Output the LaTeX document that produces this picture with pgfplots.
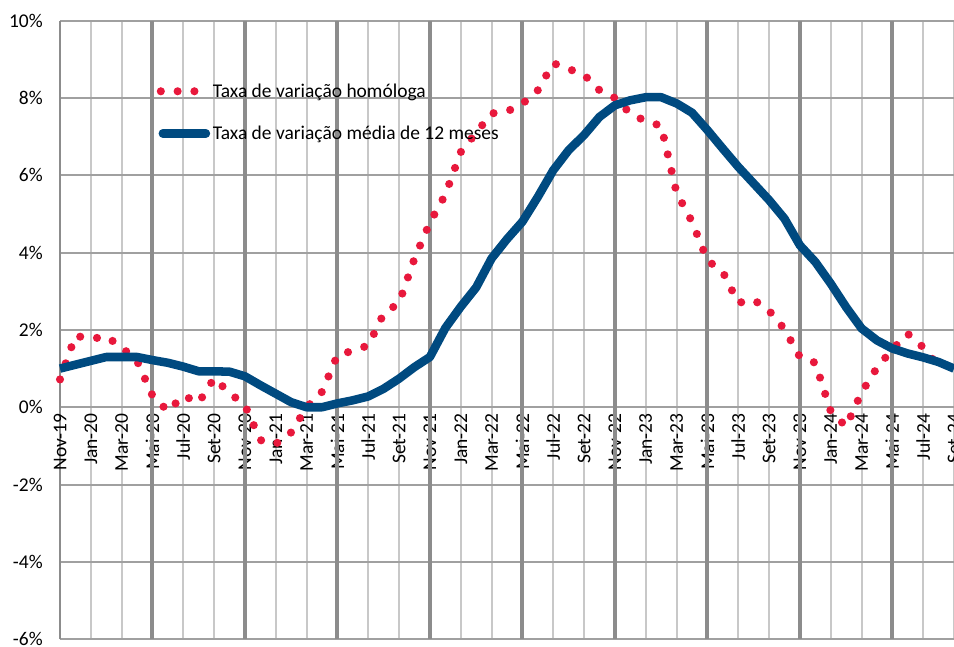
\documentclass[border=0pt]{standalone}
\usepackage{pgfplots}
\pgfplotsset{compat=1.18}
\usepackage{pgfplotstable}
\usepackage{fontspec}
\setmainfont{Carlito}
\definecolor{dotred}{RGB}{232,24,60}
\definecolor{lineblue}{RGB}{0,74,128}
\definecolor{hgrid}{RGB}{160,160,160}
\definecolor{vthin}{RGB}{200,200,200}
\definecolor{vthick}{RGB}{140,140,140}
\newcommand{\chartfont}{\fontsize{14.6}{17}\selectfont}

\pgfplotstableread{
m v
0 0.72
1 1.85
2 1.77
3 1.83
4 1.55
5 1.20
6 0.30
7 -0.10
8 0.30
9 0.12
10 0.75
11 0.37
12 0.05
13 -0.85
14 -0.95
15 -0.65
16 0.00
17 0.40
18 1.35
19 1.46
20 1.60
21 2.42
22 2.70
23 3.85
24 4.78
25 5.50
26 6.60
27 7.10
28 7.60
29 7.65
30 7.85
31 8.20
32 8.90
33 8.75
34 8.60
35 8.20
36 8.00
37 7.60
38 7.40
39 7.28
40 5.55
41 4.80
42 3.80
43 3.50
44 2.70
45 2.78
46 2.50
47 2.02
48 1.30
49 1.15
50 -0.10
51 -0.50
52 0.38
53 1.02
54 1.50
55 1.90
56 1.55
57 1.05
58 1.14
}\homologa

\pgfplotstableread{
m v
0 1.00
1 1.10
2 1.20
3 1.30
4 1.30
5 1.30
6 1.22
7 1.15
8 1.05
9 0.93
10 0.93
11 0.92
12 0.80
13 0.57
14 0.35
15 0.13
16 0.00
17 0.00
18 0.10
19 0.18
20 0.28
21 0.48
22 0.74
23 1.04
24 1.30
25 2.05
26 2.60
27 3.10
28 3.85
29 4.35
30 4.80
31 5.44
32 6.13
33 6.65
34 7.04
35 7.51
36 7.81
37 7.94
38 8.02
39 8.02
40 7.86
41 7.62
42 7.17
43 6.69
44 6.22
45 5.79
46 5.36
47 4.88
48 4.19
49 3.76
50 3.20
51 2.59
52 2.04
53 1.73
54 1.52
55 1.39
56 1.29
57 1.17
58 1.00
}\media

\begin{document}
\begin{tikzpicture}
\begin{axis}[
  scale only axis, width=670.5pt, height=463.9pt,
  xmin=0, xmax=58, ymin=-6, ymax=10,
  clip=false,
  axis x line=middle, axis y line=left,
  axis line style={-},
  x axis line style={draw=hgrid, line width=1.5pt},
  y axis line style={draw=vthick, line width=1.5pt},
  hide obscured x ticks=false, hide obscured y ticks=false,
  xtick={0,2,...,58},
  xticklabels={Nov-19,Jan-20,Mar-20,Mai-20,Jul-20,Set-20,Nov-20,Jan-21,Mar-21,Mai-21,Jul-21,Set-21,Nov-21,Jan-22,Mar-22,Mai-22,Jul-22,Set-22,Nov-22,Jan-23,Mar-23,Mai-23,Jul-23,Set-23,Nov-23,Jan-24,Mar-24,Mai-24,Jul-24,Set-24},
  ytick={-6,-4,...,10},
  yticklabels={-6\%,-4\%,-2\%,0\%,2\%,4\%,6\%,8\%,10\%},
  major tick length=0pt,
  xmajorgrids, ymajorgrids,
  y grid style={hgrid, line width=1.5pt},
  x grid style={vthin, line width=1.5pt},
  extra x ticks={6,12,...,54},
  extra x tick labels={},
  extra x tick style={grid=major, x grid style={vthick, line width=3pt}},
  tick label style={font=\chartfont, text=black},
  xticklabel style={rotate=90, anchor=east, inner sep=0pt},
  xticklabel shift=4.5pt,
  yticklabel style={anchor=east, inner sep=0pt, xshift=-12.75pt},
  legend style={draw=none, fill=none, at={(axis cs:6.26,8.45)}, anchor=north west, inner sep=0pt, row sep=16pt, font=\chartfont},
  legend cell align=left,
]
\coordinate (bl) at (rel axis cs:0,0);
\coordinate (tr) at (rel axis cs:1,1);
\addplot[dotred, line width=6.1pt, line cap=round, dash pattern=on 0pt off 12.8pt,
  legend image code/.code={\path[draw=none,fill=none] (0pt,-3pt) rectangle (38pt,3pt); \draw[dotred, line width=6.1pt, line cap=round, dash pattern=on 0pt off 12.6pt] (2.6pt,0pt) -- (28pt,0pt);}]
  table[x=m,y=v]{\homologa};
\addlegendentry{Taxa de variação homóloga}
\addplot[lineblue, line width=6.4pt, line join=round,
  legend image code/.code={\path[draw=none,fill=none] (0pt,-3pt) rectangle (38pt,3pt); \draw[lineblue, line width=6.4pt, line cap=round, solid] (4.1pt,0pt) -- (36.4pt,0pt);}]
  table[x=m,y=v]{\media};
\addlegendentry{Taxa de variação média de 12 meses}
\end{axis}
\pgfresetboundingbox
\path ([xshift=-45pt,yshift=-5.1pt]bl) rectangle ([yshift=15.5pt]tr);
\end{tikzpicture}
\end{document}
